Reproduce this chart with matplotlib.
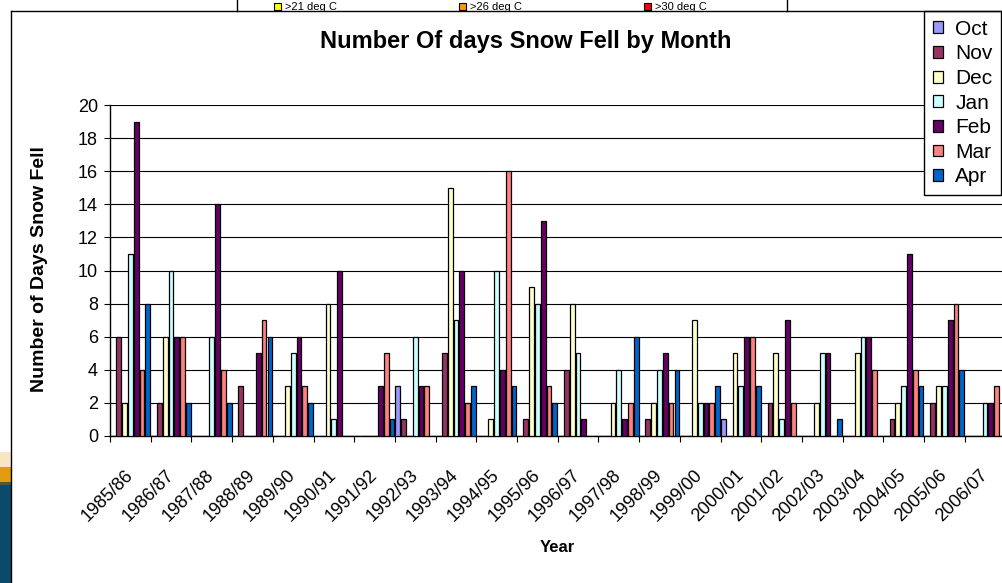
import matplotlib
matplotlib.use("Agg")
import matplotlib.pyplot as plt
from matplotlib.patches import Rectangle
from matplotlib.lines import Line2D
from matplotlib.transforms import ScaledTranslation
import numpy as np

plt.rcParams['font.family'] = ['Liberation Sans', 'DejaVu Sans']

seasons = ["1985/86", "1986/87", "1987/88", "1988/89", "1989/90", "1990/91",
           "1991/92", "1992/93", "1993/94", "1994/95", "1995/96", "1996/97",
           "1997/98", "1998/99", "1999/00", "2000/01", "2001/02", "2002/03",
           "2003/04", "2004/05", "2005/06", "2006/07"]
months = ["Oct", "Nov", "Dec", "Jan", "Feb", "Mar", "Apr"]
colors = ["#9999FF", "#993366", "#FFFFCC", "#CCFFFF", "#660066", "#FF8080", "#0066CC"]

oct_days = [0, 0, 0, 0, 0, 0, 0, 3, 0, 0, 0, 0, 0, 0, 0, 1, 0, 0, 0, 0, 0, 0]
nov_days = [6, 2, 0, 3, 0, 0, 0, 1, 5, 0, 1, 4, 0, 1, 0, 0, 2, 0, 0, 1, 2, 0]
dec_days = [2, 6, 0, 0, 3, 8, 0, 0, 15, 1, 9, 8, 2, 2, 7, 5, 5, 2, 5, 2, 3, 0]
jan_days = [11, 10, 6, 0, 5, 1, 0, 6, 7, 10, 8, 5, 4, 4, 2, 3, 1, 5, 6, 3, 3, 2]
feb_days = [19, 6, 14, 5, 6, 10, 3, 3, 10, 4, 13, 1, 1, 5, 2, 6, 7, 5, 6, 11, 7, 2]
mar_days = [4, 6, 4, 7, 3, 0, 5, 3, 2, 16, 3, 0, 2, 2, 2, 6, 2, 0, 4, 4, 8, 3]
apr_days = [8, 2, 2, 6, 2, 0, 1, 0, 3, 3, 2, 0, 6, 4, 3, 3, 0, 1, 0, 3, 4, 0]
series = [oct_days, nov_days, dec_days, jan_days, feb_days, mar_days, apr_days]

# strip of the chart above (only its legend shows)
other_labels = [">21 deg C", ">26 deg C", ">30 deg C"]
other_colors = ["#FFFF00", "#FF9900", "#FF0000"]

W, H = 1003, 583
def fx(x):
    return x / W
def fy(y):
    return 1 - y / H

fig = plt.figure(figsize=(10.03, 5.83), dpi=100)

# slide background peeking in at the left
fig.add_artist(Rectangle((0, fy(467)), fx(10.5), (467 - 452) / H, color="#F6E6C4", lw=0))
fig.add_artist(Rectangle((0, fy(482)), fx(10.5), 15 / H, color="#E49A0E", lw=0))
fig.add_artist(Rectangle((0, fy(485)), fx(10.5), 3 / H, color="#4C5A40", lw=0))
fig.add_artist(Rectangle((0, 0), fx(10.5), fy(485), color="#0B4A6B", lw=0))

# chart border + pieces of the upper chart
top = 11
fig.add_artist(Line2D([fx(10.7), 1], [fy(top), fy(top)], color="black", lw=1))
fig.add_artist(Line2D([fx(10.7), fx(10.7)], [0, fy(top)], color="black", lw=1))
for xl in [237, 787]:
    fig.add_artist(Line2D([fx(xl), fx(xl)], [fy(top), 1], color="black", lw=1))
for i, (lab, c) in enumerate(zip(other_labels, other_colors)):
    x0 = 274 + i * 185
    fig.add_artist(Rectangle((fx(x0), fy(9.5)), fx(7), 7 / H, facecolor=c,
                             edgecolor="black", lw=0.8))
    fig.text(fx(x0 + 11), fy(9.5), lab, fontsize=8, va="baseline", ha="left")

ax = fig.add_axes([fx(110), fy(436), (1005.4 - 110) / W, (436 - 105) / H])

x = np.arange(len(seasons))
pitch = 1 / 7
for k, (name, vals, c) in enumerate(zip(months, series, colors)):
    ax.bar(x + (k - 3) * pitch, vals, pitch * 0.82, color=c, edgecolor="black",
           linewidth=0.9, label=name, zorder=3)

ax.set_xlim(-0.5, len(seasons) - 0.5)
ax.set_ylim(0, 20)
ax.set_yticks(range(0, 21, 2))
ax.yaxis.grid(True, color="black", lw=0.8)
ax.set_axisbelow(True)
for s in ["top", "right"]:
    ax.spines[s].set_visible(False)
ax.spines["left"].set_linewidth(1)
ax.spines["bottom"].set_linewidth(1)

ax.set_xticks(x)
ax.set_xticklabels(seasons, rotation=45, ha="right", va="top", rotation_mode="anchor")
ax.set_xticks(np.arange(-0.5, len(seasons), 1), minor=True)
ax.tick_params(axis="x", which="major", length=0, pad=22, labelsize=13)
ax.tick_params(axis="x", which="minor", length=4.3, width=0.8, direction="out")
ax.tick_params(axis="y", length=4.3, width=0.8, pad=4.3, labelsize=13)
for lab in ax.get_xticklabels():
    lab.set_transform(lab.get_transform() + ScaledTranslation(-0.06, 0, fig.dpi_scale_trans))

fig.text(fx(320), fy(48), "Number Of days Snow Fell by Month", fontsize=17,
         fontweight="bold", ha="left", va="baseline")
fig.text(fx(40), fy(269), "Number of Days Snow Fell", fontsize=14, fontweight="bold",
         rotation=90, ha="center", va="center")
fig.text(fx(557), fy(547), "Year", fontsize=12, fontweight="bold", ha="center", va="center")

leg = ax.legend(loc="upper left", bbox_to_anchor=(fx(924), fy(top)),
                bbox_transform=fig.transFigure, frameon=True, fancybox=False,
                edgecolor="black", framealpha=1, fontsize=15, handlelength=0.5,
                handleheight=0.5, handletextpad=0.58, labelspacing=0.27,
                borderpad=0.42, borderaxespad=0)
leg.get_frame().set_linewidth(1)

fig.savefig("out.png", dpi=100)
